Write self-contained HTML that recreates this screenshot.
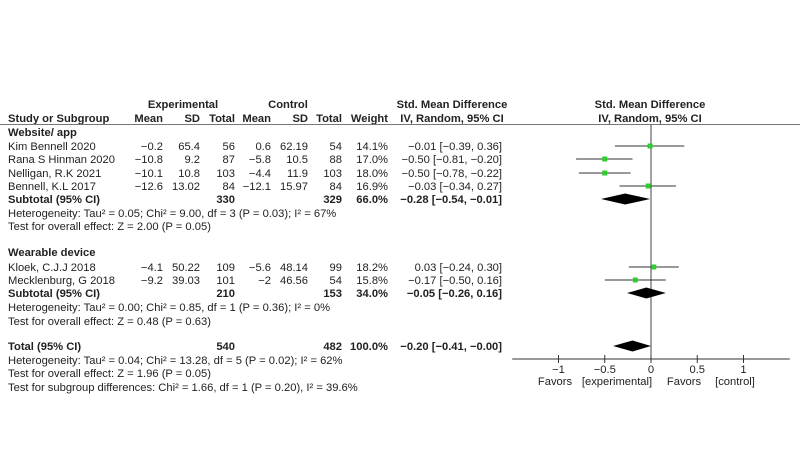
<!DOCTYPE html>
<html><head><meta charset="utf-8"><style>
body{margin:0;background:#fff;}
svg{display:block;font-family:"Liberation Sans",sans-serif;font-size:11.2px;fill:#222;}
.b{font-weight:bold;}
</style></head><body>
<svg id="c" width="800" height="475" viewBox="0 0 800 475">
<g id="g"></g>
</svg>
<script>
const studies=["Kim Bennell 2020","Rana S Hinman 2020","Nelligan, R.K 2021","Bennell, K.L 2017","Kloek, C.J.J 2018","Mecklenburg, G 2018"];
const rowsY=[146,159,173,186,267,280];
const expMean=["−0.2","−10.8","−10.1","−12.6","−4.1","−9.2"];
const expSD=["65.4","9.2","10.8","13.02","50.22","39.03"];
const expN=["56","87","103","84","109","101"];
const ctlMean=["0.6","−5.8","−4.4","−12.1","−5.6","−2"];
const ctlSD=["62.19","10.5","11.9","15.97","48.14","46.56"];
const ctlN=["54","88","103","84","99","54"];
const weights=["14.1%","17.0%","18.0%","16.9%","18.2%","15.8%"];
const est=[-0.01,-0.50,-0.50,-0.03,0.03,-0.17];
const lo=[-0.39,-0.81,-0.78,-0.34,-0.24,-0.50];
const hi=[0.36,-0.20,-0.22,0.27,0.30,0.16];
const pooledName=["subtotal-website","subtotal-wearable","total"];
const pooledY=[199,293,346];
const pooledEst=[-0.28,-0.05,-0.20];
const pooledLo=[-0.54,-0.26,-0.41];
const pooledHi=[-0.01,0.16,-0.00];
const ticks=[-1,-0.5,0,0.5,1];
const tickLabels=["−1","−0.5","0","0.5","1"];
const NS="http://www.w3.org/2000/svg";
const g=document.getElementById('g');
const X=v=>651+v*92.5;
function el(t,a,txt){const e=document.createElementNS(NS,t);for(const k in a)e.setAttribute(k,a[k]);if(txt!==undefined)e.textContent=txt;g.appendChild(e);return e;}
function T(x,y,s,anchor,cls,name){const e=el('text',{x:x,y:y+4,'text-anchor':anchor||'start',class:cls||''},s);

return e;}
const f=v=>(v<0||Object.is(v,-0)?'−':'')+Math.abs(v).toFixed(2);
T(183,104,"Experimental","middle","b","experimental-header");
T(288,104,"Control","middle","b","control-header");
T(452,104,"Std. Mean Difference","middle","b","smd-header");
T(650,104,"Std. Mean Difference","middle","b","plot-header");
T(8,118,"Study or Subgroup","start","b","study-header");
[["Mean",163],["SD",200],["Total",235],["Mean",271],["SD",308],["Total",342],["Weight",388]].forEach(h=>T(h[1],118,h[0],"end","b","column-header"));
T(452,118,"IV, Random, 95% CI","middle","b","ci-header");
T(650,118,"IV, Random, 95% CI","middle","b","plot-ci-header");
let l=el('line',{x1:0,y1:124.5,x2:800,y2:124.5,stroke:'#777','stroke-width':1});

T(8,132,"Website/ app","start","b","group-website");
T(8,252,"Wearable device","start","b","group-wearable");
l=el('line',{x1:X(0),y1:125,x2:X(0),y2:359,stroke:'#444','stroke-width':1});

studies.forEach((s,i)=>{const y=rowsY[i];
T(8,y,s,"start","","study-name");
T(163,y,expMean[i],"end","","exp-mean");T(200,y,expSD[i],"end","","exp-sd");T(235,y,expN[i],"end","","exp-total");
T(271,y,ctlMean[i],"end","","ctl-mean");T(308,y,ctlSD[i],"end","","ctl-sd");T(342,y,ctlN[i],"end","","ctl-total");
T(388,y,weights[i],"end","","weight");
T(502,y,f(est[i])+" ["+f(lo[i])+", "+f(hi[i])+"]","end","","ci-text");
const ln=el('line',{x1:X(lo[i]),y1:y,x2:X(hi[i]),y2:y,stroke:'#333','stroke-width':1});

const r=el('rect',{x:X(est[i])-2.5,y:y-2.5,width:5,height:5,fill:'#2ecc2e'});

});
const pooledLabel=["Subtotal (95% CI)","Subtotal (95% CI)","Total (95% CI)"];
const pooledE=["330","210","540"],pooledC=["329","153","482"],pooledW=["66.0%","34.0%","100.0%"];
pooledY.forEach((y,i)=>{
T(8,y,pooledLabel[i],"start","b",pooledName[i]+"-label");
T(235,y,pooledE[i],"end","b","exp-total");T(342,y,pooledC[i],"end","b","ctl-total");T(388,y,pooledW[i],"end","b","weight");
T(502,y,f(pooledEst[i])+" ["+f(pooledLo[i])+", "+f(pooledHi[i])+"]","end","b","ci-text");
const p=el('polygon',{points:`${X(pooledLo[i])},${y} ${X(pooledEst[i])},${y-5.5} ${X(pooledHi[i])},${y} ${X(pooledEst[i])},${y+5.5}`,fill:'#000'});

});
const notes=[[213,"Heterogeneity: Tau² = 0.05; Chi² = 9.00, df = 3 (P = 0.03); I² = 67%"],[226,"Test for overall effect: Z = 2.00 (P = 0.05)"],
[307,"Heterogeneity: Tau² = 0.00; Chi² = 0.85, df = 1 (P = 0.36); I² = 0%"],[321,"Test for overall effect: Z = 0.48 (P = 0.63)"],
[360,"Heterogeneity: Tau² = 0.04; Chi² = 13.28, df = 5 (P = 0.02); I² = 62%"],[373,"Test for overall effect: Z = 1.96 (P = 0.05)"],
[387,"Test for subgroup differences: Chi² = 1.66, df = 1 (P = 0.20), I² = 39.6%"]];
notes.forEach(n=>T(8,n[0],n[1],"start","","stats-note"));
l=el('line',{x1:X(-1.5),y1:359,x2:X(1.5),y2:359,stroke:'#333','stroke-width':1});

ticks.forEach((t,i)=>{const tk=el('line',{x1:X(t),y1:355,x2:X(t),y2:363,stroke:'#333'});

T(X(t),369,tickLabels[i],"middle","","x-tick-label");});
T(555,381,"Favors","middle","","favors-experimental");
T(617,381,"[experimental]","middle","","favors-experimental-bracket");
T(684,381,"Favors","middle","","favors-control");
T(735,381,"[control]","middle","","favors-control-bracket");
</script>
</body></html>
